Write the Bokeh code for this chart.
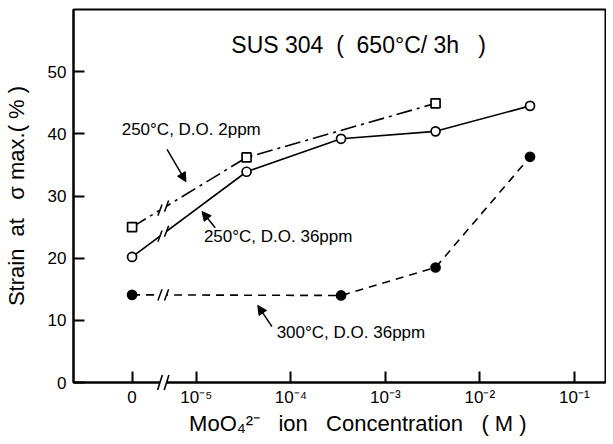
import numpy as np
from bokeh.plotting import figure
from bokeh.models import Range1d, FixedTicker, Arrow, NormalHead, Label
from bokeh.embed import file_html
from bokeh.resources import INLINE

# ---------------- data ----------------
conc_250_2 = [0, 3.4e-5, 3.4e-3]
strain_250_2 = [25.0, 36.2, 44.9]

conc_250_36 = [0, 3.4e-5, 3.4e-4, 3.4e-3, 3.4e-2]
strain_250_36 = [20.2, 33.9, 39.2, 40.4, 44.5]

conc_300_36 = [0, 3.4e-4, 3.4e-3, 3.4e-2]
strain_300_36 = [14.1, 14.0, 18.5, 36.3]

x_tick_values = [0, 1e-5, 1e-4, 1e-3, 1e-2, 1e-1]
x_tick_labels = ["0", "10⁻⁵", "10⁻⁴", "10⁻³", "10⁻²", "10⁻¹"]
y_ticks = [0, 10, 20, 30, 40, 50]

# ---------------- axis mapping (broken log axis) ----------------
ZERO_POS = -5.68    # where "0" concentration sits on the axis
BREAK_POS = -5.35   # axis break position


def xpos(c):
    return [np.log10(v) if v > 0 else ZERO_POS for v in c]


FONT = "Liberation Sans"
NB = "\u00a0"

p = figure(frame_width=532, frame_height=373, output_backend="svg",
           toolbar_location=None,
           x_range=Range1d(-6.3, -0.67), y_range=Range1d(0, 60),
           min_border_left=66, min_border_right=1, min_border_top=9,
           min_border_bottom=10)
p.grid.visible = False
p.outline_line_color = "black"
p.outline_line_width = 2
p.background_fill_color = "white"
p.border_fill_color = "white"

xt = xpos(x_tick_values)
p.xaxis.ticker = FixedTicker(ticks=xt, minor_ticks=[])
p.xaxis.major_label_overrides = {t: lab for t, lab in zip(xt, x_tick_labels)}
p.yaxis.ticker = FixedTicker(ticks=y_ticks, minor_ticks=[])

for ax in (p.xaxis, p.yaxis):
    ax.axis_line_width = 2
    ax.axis_line_color = "black"
    ax.major_tick_in = 11
    ax.major_tick_out = 0
    ax.major_tick_line_width = 2
    ax.minor_tick_line_color = None
    ax.major_label_text_font = FONT
    ax.major_label_text_font_size = "17px"
    ax.major_label_text_color = "black"
    ax.axis_label_text_font = FONT
    ax.axis_label_text_font_size = "22px"
    ax.axis_label_text_font_style = "normal"
    ax.axis_label_text_color = "black"

p.xaxis.axis_label = (NB * 6 + "MoO₄²⁻" + NB * 3 + "ion" + NB * 3 +
                      "Concentration" + NB * 3 + "(" + NB + "M" + NB + ")")
p.yaxis.axis_label = ("Strain" + NB * 2 + "at" + NB * 3 + "σ" + NB + "max.(" +
                      NB + "%" + NB + ")")
p.xaxis.major_label_standoff = 5
p.xaxis.axis_label_standoff = 1
p.yaxis.major_label_standoff = 7
p.yaxis.axis_label_standoff = 16

# ---------------- series ----------------
series = [
    (conc_250_2, strain_250_2, "16 5 3 5", "square", "white"),
    (conc_250_36, strain_250_36, "solid", "circle", "white"),
    (conc_300_36, strain_300_36, "8 6", "circle", "black"),
]

for c, s, dash, marker, fill in series:
    p.line(xpos(c), s, line_color="black", line_width=1.6, line_dash=dash)

# break marks on each line between "0" and the first concentration
gw = 0.035
for c, s, dash, marker, fill in series:
    x = xpos(c)
    yb = float(np.interp(BREAK_POS, [x[0], x[1]], [s[0], s[1]]))
    slope = (s[1] - s[0]) / (x[1] - x[0])
    p.segment(x0=[BREAK_POS - gw], y0=[yb - slope * gw],
              x1=[BREAK_POS + gw], y1=[yb + slope * gw],
              line_color="white", line_width=5)
    for off in (-gw, gw):
        xc = BREAK_POS + off
        yc = yb + slope * off
        p.segment(x0=[xc - 0.022], y0=[yc - 0.9], x1=[xc + 0.022], y1=[yc + 0.9],
                  line_color="black", line_width=1.5)

for c, s, dash, marker, fill in series:
    p.scatter(xpos(c), s, marker=marker, size=9, line_color="black",
              line_width=1.7, fill_color=fill)

# break on the x axis
r = p.segment(x0=[BREAK_POS - gw], y0=[0], x1=[BREAK_POS + gw], y1=[0],
              line_color="white", line_width=6)
r.level = "overlay"
for off in (-gw, gw):
    xc = BREAK_POS + off
    r = p.segment(x0=[xc - 0.025], y0=[-1.2], x1=[xc + 0.025], y1=[1.2],
                  line_color="black", line_width=1.6)
    r.level = "overlay"

# ---------------- annotations ----------------
title = ("SUS" + NB + "304" + NB * 2 + "(" + NB * 2 + "650°C/" + NB + "3h" +
         NB * 3 + ")")
p.add_layout(Label(x=-4.63, y=54.3, text=title,
                   text_font=FONT, text_font_size="23px", text_baseline="middle",
                   text_align="left", text_color="black"))

p.add_layout(Label(x=-5.79, y=40.7, text="250°C, D.O. 2ppm",
                   text_font=FONT, text_font_size="17px", text_baseline="middle",
                   text_color="black"))
p.add_layout(Label(x=-4.92, y=23.5, text="250°C, D.O. 36ppm",
                   text_font=FONT, text_font_size="17px", text_baseline="middle",
                   text_color="black"))
p.add_layout(Label(x=-4.15, y=8.0, text="300°C, D.O. 36ppm",
                   text_font=FONT, text_font_size="17px", text_baseline="middle",
                   text_color="black"))

arrows = [
    ((-5.31, 37.5), (-5.11, 32.3)),
    ((-4.80, 24.9), (-4.94, 27.5)),
    ((-4.20, 9.0), (-4.35, 12.4)),
]
for (xs, ys), (xe, ye) in arrows:
    p.add_layout(Arrow(x_start=xs, y_start=ys, x_end=xe, y_end=ye,
                       line_color="black", line_width=1.5,
                       end=NormalHead(size=9, fill_color="black",
                                      line_color="black", line_width=1)))

open("out.html", "w").write(file_html(p, INLINE))
